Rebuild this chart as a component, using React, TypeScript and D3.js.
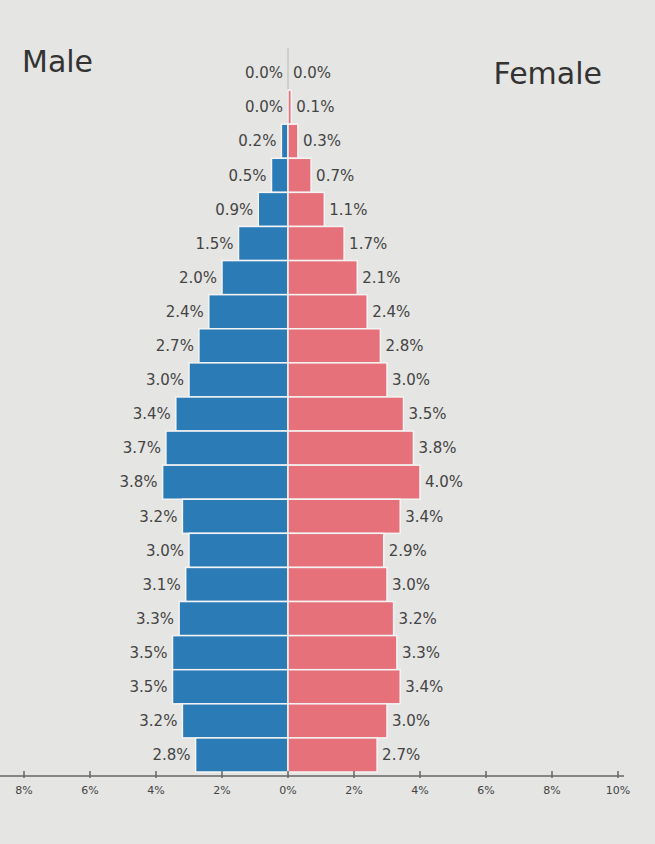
import React from "react";
import * as d3 from "d3";

const ageGroups = [
  "100+", "95-99", "90-94", "85-89", "80-84", "75-79", "70-74", "65-69", "60-64",
  "55-59", "50-54", "45-49", "40-44", "35-39", "30-34", "25-29", "20-24", "15-19",
  "10-14", "5-9", "0-4",
];
const maleValues = [0.0, 0.0, 0.2, 0.5, 0.9, 1.5, 2.0, 2.4, 2.7, 3.0, 3.4, 3.7, 3.8, 3.2, 3.0, 3.1, 3.3, 3.5, 3.5, 3.2, 2.8];
const femaleValues = [0.0, 0.1, 0.3, 0.7, 1.1, 1.7, 2.1, 2.4, 2.8, 3.0, 3.5, 3.8, 4.0, 3.4, 2.9, 3.0, 3.2, 3.3, 3.4, 3.0, 2.7];
const tickValues = [-8, -6, -4, -2, 0, 2, 4, 6, 8, 10];

const W = 655;
const H = 844;
const FONT = "'DejaVu Sans', Verdana, sans-serif";
const BLUE = "#2b7bb7";
const PINK = "#e6717b";

export default function App() {
  const x = d3.scaleLinear().domain([-8, 10]).range([24, 618]);
  const y = d3.scaleBand<string>().domain(ageGroups).range([56, 772]).paddingInner(0);
  const axisY = 776;
  const bw = y.bandwidth();

  return (
    <svg width={W} height={H} style={{ position: "absolute", left: 0, top: 0, background: "#e5e5e3" }}>
      <rect x={0} y={0} width={W} height={H} fill="#e5e5e3" />
      <text x={22} y={72} fontFamily={FONT} fontSize={30} fill="#333">Male</text>
      <text x={602} y={84} fontFamily={FONT} fontSize={30} fill="#333" textAnchor="end">Female</text>

      <line x1={x(0)} x2={x(0)} y1={48} y2={axisY} stroke="#b8b8b8" strokeWidth={1} />

      {ageGroups.map((g, i) => {
        const m = maleValues[i];
        const f = femaleValues[i];
        const y0 = y(g)!;
        const cy = y0 + bw / 2;
        return (
          <g key={g}>
            {m > 0 && (
              <rect x={x(-m)} y={y0} width={x(0) - x(-m)} height={bw} fill={BLUE} stroke="#f4f4f4" strokeWidth={1.5} />
            )}
            {f > 0 && (
              <rect x={x(0)} y={y0} width={x(f) - x(0)} height={bw} fill={PINK} stroke="#f4f4f4" strokeWidth={1.5} />
            )}
            <text x={x(-m) - 5} y={cy} dy="0.35em" textAnchor="end" fontFamily={FONT} fontSize={15} fill="#444">
              {m.toFixed(1)}%
            </text>
            <text x={x(f) + 5} y={cy} dy="0.35em" textAnchor="start" fontFamily={FONT} fontSize={15} fill="#444">
              {f.toFixed(1)}%
            </text>
          </g>
        );
      })}

      <line x1={0} x2={x(10) + 6} y1={axisY} y2={axisY} stroke="#666" strokeWidth={1.5} />
      {tickValues.map((t) => (
        <g key={t} transform={`translate(${x(t)},${axisY})`}>
          <line y1={-5} y2={2} stroke="#666" strokeWidth={1.5} />
          <text y={18} textAnchor="middle" fontFamily={FONT} fontSize={11} fill="#444">
            {Math.abs(t)}%
          </text>
        </g>
      ))}
    </svg>
  );
}
